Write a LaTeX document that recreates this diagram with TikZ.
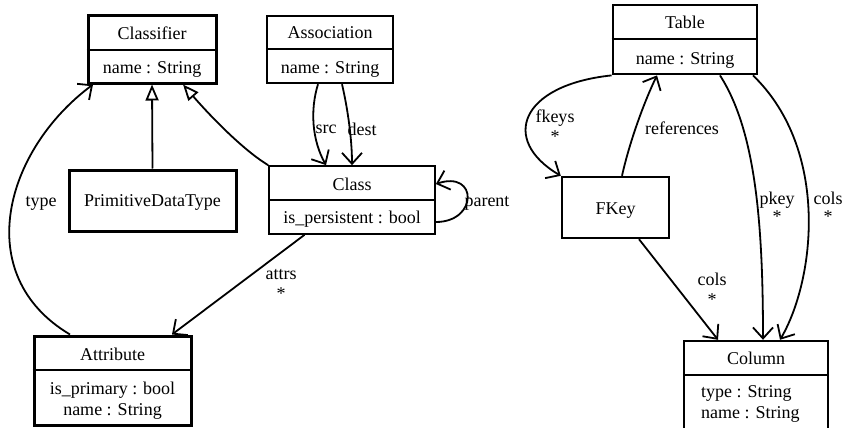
\documentclass[tikz,border=0pt]{standalone}
\usepackage{fontspec}
\setmainfont{Liberation Serif}
\usetikzlibrary{arrows.meta}
\tikzset{
  box/.style={draw, rectangle, inner sep=0pt, fill=none},
  txt/.style={inner sep=0pt, text height=12pt, text depth=4pt, font=\fontsize{18}{20}\selectfont},
  lbl/.style={inner sep=0pt, align=center, font=\fontsize{18}{20}\selectfont},
  assoc/.style={line width=1.8pt, -{Straight Barb[length=11pt,width=20pt]}},
  gen/.style={line width=1.8pt, -{Triangle[open,length=16pt,width=13pt,fill=white]}},
}
\begin{document}
\begin{tikzpicture}[x=1pt,y=1pt]
\useasboundingbox (0,0) rectangle (848,-428);
% Classifier
\node[box, line width=3pt, minimum width=128pt, minimum height=67pt] (classifier) at (152,-49.5) {};
\draw[line width=2.4pt] (classifier.west |- 0,-50) -- (classifier.east |- 0,-50);
\node[txt] (classifierT) at (152,-36) {Classifier};
\node[txt] (classifierA) at (152,-70) {name : String};
% Association
\node[box, line width=2.4pt, minimum width=126pt, minimum height=67pt] (assoc) at (330,-49.5) {};
\draw[line width=2.4pt] (assoc.west |- 0,-49) -- (assoc.east |- 0,-49);
\node[txt] (assocT) at (330,-35) {Association};
\node[txt] (assocA) at (330,-70) {name : String};
% PrimitiveDataType
\node[box, line width=3pt, minimum width=167pt, minimum height=61pt] (pdt) at (152.5,-200.5) {};
\node[txt] (pdtT) at (152.5,-202) {PrimitiveDataType};
% Class
\node[box, line width=1.7pt, minimum width=166pt, minimum height=68pt] (class) at (352,-200) {};
\draw[line width=1.7pt] (class.west |- 0,-200) -- (class.east |- 0,-200);
\node[txt] (classT) at (352,-186) {Class};
\node[txt] (classA) at (352,-219) {is\_persistent : bool};
% Attribute
\node[box, line width=3pt, minimum width=157pt, minimum height=89pt] (attr) at (112.5,-380.5) {};
\draw[line width=2.4pt] (attr.west |- 0,-370) -- (attr.east |- 0,-370);
\node[txt] (attrT) at (112.5,-356) {Attribute};
\node[txt] (attrA1) at (112.5,-390) {is\_primary : bool};
\node[txt] (attrA2) at (112.5,-411) {name : String};
% Table
\node[box, line width=2.8pt, minimum width=144pt, minimum height=69pt] (table) at (685,-39.5) {};
\draw[line width=2.4pt] (table.west |- 0,-39) -- (table.east |- 0,-39);
\node[txt] (tableT) at (685,-25) {Table};
\node[txt] (tableA) at (685,-60) {name : String};
% FKey
\node[box, line width=2.4pt, minimum width=107pt, minimum height=61pt] (fkey) at (615.5,-207.5) {};
\node[txt] (fkeyT) at (615.5,-210) {FKey};
% Column
\node[box, line width=2.4pt, minimum width=144pt, minimum height=90pt] (column) at (756,-386) {};
\draw[line width=2.4pt] (column.west |- 0,-375) -- (column.east |- 0,-375);
\node[txt] (columnT) at (756,-360) {Column};
\node[txt, anchor=west] (columnA1) at (701,-393) {type : String};
\node[txt, anchor=west] (columnA2) at (701,-414) {name : String};

% generalizations
\draw[gen] (pdt.north) -- (classifier.south);
\draw[gen] (class.north west) .. controls (240,-148) and (205,-110) .. ([xshift=31pt]classifier.south);
% associations
\draw[assoc] ([xshift=-12pt]assoc.south) .. controls (310,-110) and (312,-140) .. ([xshift=-26pt]class.north);
\draw[assoc] ([xshift=12pt]assoc.south) .. controls (348,-110) and (352,-140) .. (class.north);
\draw[assoc] ([yshift=-22pt]class.east) .. controls (478,-222) and (478,-170) .. ([yshift=16pt]class.east);
\draw[assoc] ([xshift=-47.5pt]class.south) -- ([xshift=59.5pt]attr.north);
\draw[assoc] ([xshift=-42.5pt]attr.north) .. controls (-30,-275) and (5,-150) .. ([xshift=-59pt]classifier.south);
\draw[assoc] (table.south west) .. controls (520,-85) and (500,-140) .. (fkey.north west);
\draw[assoc] ([xshift=6.5pt]fkey.north) .. controls (630,-140) and (645,-100) .. ([xshift=-28pt]table.south);
\draw[assoc] ([xshift=23.5pt]fkey.south) -- ([xshift=-38pt]column.north);
\draw[assoc] ([xshift=35pt]table.south) .. controls (755,-130) and (763,-220) .. ([xshift=7pt]column.north);
\draw[assoc] ([xshift=68pt]table.south) .. controls (830,-150) and (815,-280) .. ([xshift=24pt]column.north);

% labels
\node[lbl] (lsrc) at (326,-129) {src};
\node[lbl] (ldest) at (362,-129) {dest};
\node[lbl] (lparent) at (487,-203) {parent};
\node[lbl] (lattrs) at (281,-284) {attrs\\[0pt]*};
\node[lbl] (ltype) at (41,-203) {type};
\node[lbl] (lfkeys) at (555,-126) {fkeys\\[0pt]*};
\node[lbl] (lrefs) at (682,-128) {references};
\node[lbl] (lcols1) at (712,-289) {cols\\[0pt]*};
\node[lbl] (lpkey) at (777,-207) {pkey\\[-2pt]*};
\node[lbl] (lcols2) at (828,-207) {cols\\[-2pt]*};
\end{tikzpicture}
\end{document}
